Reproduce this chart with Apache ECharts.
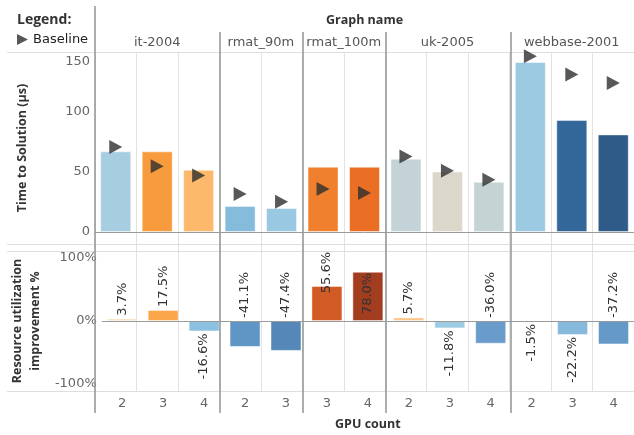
<!DOCTYPE html>
<html>
<head>
<meta charset="utf-8">
<title>Time to Solution / Resource utilization</title>
<script src="https://cdn.jsdelivr.net/npm/echarts@6/dist/echarts.min.js"></script>
<style>
	html, body { margin: 0; padding: 0; background: #fff; }
	#chart { width: 634px; height: 435px; }
</style>
</head>
<body>
<div id="chart"></div>
<script>
/** values **/
var graphNames = ['it-2004', 'rmat_90m', 'rmat_100m', 'uk-2005', 'webbase-2001'];
var gpuCounts = [[2, 3, 4], [2, 3], [3, 4], [2, 3, 4], [2, 3, 4]];
var timeToSolution = [67.2, 67.2, 51.9, 21.7, 20.0, 54.4, 54.4, 61.1, 50.5, 41.9, 141.7, 93.3, 81.3];
var baselineTime = [70.8, 54.7, 47.0, 31.7, 25.3, 35.8, 32.5, 63.0, 51.1, 43.6, 146.5, 131.3, 124.2];
var utilImprovement = [3.7, 17.5, -16.6, -41.1, -47.4, 55.6, 78.0, 5.7, -11.8, -36.0, -1.5, -22.2, -37.2];
var timeTicks = [0, 50, 100, 150];
var utilTicks = [-100, 0, 100];

// bar colours (one per bar)
var timeColors = ['#a6cde0', '#f89b3c', '#fdb96b', '#85bbdb', '#99c8e2', '#f0802d', '#ea6f25',
	'#c4d3d7', '#dbd7cb', '#c4d4d4', '#9dcae3', '#336699', '#2e5b88'];
var utilColors = ['#f0cf9f', '#fba64b', '#8cc0e0', '#5f96c5', '#5588b8', '#d15a25', '#a33d1f',
	'#fcc385', '#9ecbe4', '#6a9ccb', '#cfe2ef', '#87b9dd', '#6499c8'];
// where each improvement label sits
var utilLabelSide = ['up', 'up', 'down', 'up', 'up', 'clamp', 'inside', 'up', 'down', 'up', 'down', 'down', 'up'];

var resourceChart = {
	plotLeft: 95,
	plotWidth: 541,
	font: 'DejaVu Sans',
	init: function() {
		this.buildKeys();
		this.chart();
	},
	buildKeys: function() {
		var self = this;
		self.keys = [];
		self.groupCenters = [];
		self.groupEdges = [];
		var n = 0;
		gpuCounts.forEach(function(list, g) {
			self.groupCenters.push(n + list.length / 2);
			list.forEach(function(c) {
				self.keys.push(graphNames[g] + '|' + c);
			});
			n += list.length;
			self.groupEdges.push(n);
		});
	},
	utilLabel: function(side) {
		var base = {
			show: true,
			rotate: 90,
			verticalAlign: 'middle',
			fontFamily: this.font,
			fontSize: 13,
			color: '#333',
			formatter: function(p) {
				return p.value.toFixed(1) + '%';
			}
		};
		if (side == 'up') {
			base.position = 'top';
			base.align = 'left';
			base.distance = 3;
		} else if (side == 'down') {
			base.position = 'bottom';
			base.align = 'right';
			base.distance = 2;
		} else if (side == 'inside') {
			base.position = 'insideTop';
			base.align = 'right';
			base.distance = 1;
		} else {
			// pushed down so it stays inside the panel
			base.position = 'top';
			base.align = 'right';
			base.distance = 34;
		}
		return base;
	},
	decorations: function() {
		var self = this;
		var cw = self.plotWidth / self.keys.length;
		var items = [];
		// panel borders
		[52, 244, 251, 391].forEach(function(y) {
			items.push({
				type: 'line',
				shape: { x1: 7, y1: y + 0.5, x2: 640, y2: y + 0.5 },
				style: { stroke: '#dedede', lineWidth: 1 },
				z: 1
			});
		});
		// left border of the table
		items.push({
			type: 'line',
			shape: { x1: self.plotLeft, y1: 6, x2: self.plotLeft, y2: 413 },
			style: { stroke: '#8e9499', lineWidth: 1.5 },
			z: 5
		});
		// group dividers
		self.groupEdges.slice(0, -1).forEach(function(e) {
			var x = Math.round(self.plotLeft + e * cw);
			items.push({
				type: 'line',
				shape: { x1: x, y1: 32, x2: x, y2: 413 },
				style: { stroke: '#8e9499', lineWidth: 1.5 },
				z: 5
			});
		});
		return items;
	},
	chart: function() {
		var self = this;
		var el = document.getElementById('chart');
		var myChart = echarts.init(el, null, { renderer: 'canvas' });
		var titleStyle = { fontFamily: 'Open Sans', fontWeight: 'bold', fontSize: 12.5, color: '#333' };
		var option = {
			animation: false,
			backgroundColor: '#fff',
			title: {
				text: 'Legend:',
				left: 17,
				top: 13,
				padding: 0,
				textStyle: { fontFamily: 'Open Sans', fontWeight: 'bold', fontSize: 14, color: '#333' }
			},
			legend: {
				left: 17,
				top: 33,
				padding: 0,
				selectedMode: false,
				itemWidth: 11,
				itemHeight: 11,
				data: [{ name: 'Baseline', icon: 'path://M0,0L10,5L0,10Z' }],
				textStyle: { fontFamily: self.font, fontSize: 13, color: '#222' }
			},
			grid: [
				{ left: self.plotLeft, width: self.plotWidth, top: 52, height: 192 },
				{ left: self.plotLeft, width: self.plotWidth, top: 251, height: 140 },
				{ left: self.plotLeft, width: self.plotWidth, top: 52, height: 339 }
			],
			xAxis: [{
				gridIndex: 0,
				type: 'category',
				data: self.keys,
				axisLine: { show: false },
				axisTick: { show: false },
				axisLabel: { show: false },
				splitLine: { show: false }
			}, {
				gridIndex: 0,
				type: 'value',
				position: 'top',
				min: 0,
				max: self.keys.length,
				name: 'Graph name',
				nameLocation: 'middle',
				nameGap: 25,
				nameTextStyle: titleStyle,
				axisLine: { show: false },
				axisTick: { show: false },
				splitLine: { show: false },
				axisLabel: {
					customValues: self.groupCenters,
					margin: 3,
					fontFamily: self.font,
					fontSize: 13,
					color: '#555',
					formatter: function(v) {
						var i = self.groupCenters.indexOf(v);
						return i >= 0 ? graphNames[i] : '';
					}
				}
			}, {
				gridIndex: 1,
				type: 'category',
				data: self.keys,
				position: 'bottom',
				name: 'GPU count',
				nameLocation: 'middle',
				nameGap: 27,
				nameTextStyle: titleStyle,
				axisLine: { show: false, onZero: false },
				axisTick: { show: false },
				splitLine: { show: false },
				axisLabel: {
					interval: 0,
					margin: 6,
					fontFamily: self.font,
					fontSize: 13,
					color: '#666',
					formatter: function(v) {
						return v.split('|')[1];
					}
				}
			}, {
				gridIndex: 2,
				type: 'category',
				data: self.keys,
				axisLine: { show: false },
				axisTick: { show: false },
				axisLabel: { show: false },
				splitLine: { show: true, interval: 0, lineStyle: { color: '#e2e2e2', width: 1 } }
			}],
			yAxis: [{
				gridIndex: 0,
				type: 'value',
				min: -10,
				max: 150,
				name: 'Time to Solution (μs)',
				nameLocation: 'middle',
				nameRotate: 90,
				nameGap: 66,
				nameTextStyle: titleStyle,
				axisLine: { show: false },
				axisTick: { show: false },
				splitLine: { show: false },
				axisLabel: {
					customValues: timeTicks,
					margin: 5,
					fontFamily: self.font,
					fontSize: 13,
					color: '#666',
					formatter: function(v) {
						return v == 150 ? '{shift|' + v + '}' : v;
					},
					rich: {
						shift: { fontFamily: self.font, fontSize: 13, color: '#666', padding: [20, 0, 0, 0] }
					}
				}
			}, {
				gridIndex: 1,
				type: 'value',
				min: -111,
				max: 111,
				name: 'Resource utilization\nimprovement %',
				nameLocation: 'middle',
				nameRotate: 90,
				nameGap: 48,
				nameTextStyle: Object.assign({ lineHeight: 18 }, titleStyle),
				axisLine: { show: false },
				axisTick: { show: false },
				splitLine: { show: false },
				axisLabel: {
					customValues: utilTicks,
					margin: 5,
					fontFamily: self.font,
					fontSize: 13,
					color: '#666',
					formatter: function(v) {
						return v + '%';
					}
				}
			}, {
				gridIndex: 2,
				type: 'value',
				min: 0,
				max: 1,
				show: false
			}],
			series: [{
				name: 'Time to Solution',
				type: 'bar',
				xAxisIndex: 0,
				yAxisIndex: 0,
				barWidth: 31,
				z: 3,
				data: timeToSolution.map(function(v, i) {
					return { value: v, itemStyle: { color: timeColors[i], borderColor: 'rgba(255,255,255,0.45)', borderWidth: 1 } };
				}),
				markLine: {
					silent: true,
					symbol: 'none',
					label: { show: false },
					lineStyle: { color: '#9a9a9a', type: 'solid', width: 1 },
					data: [{ yAxis: 0 }]
				}
			}, {
				name: 'Baseline',
				type: 'scatter',
				xAxisIndex: 0,
				yAxisIndex: 0,
				symbol: 'path://M0,0L10,5L0,10Z',
				symbolSize: [13, 14],
				itemStyle: { color: '#2e2e2e' },
				z: 4,
				data: baselineTime
			}, {
				name: 'Resource utilization improvement',
				type: 'bar',
				xAxisIndex: 2,
				yAxisIndex: 1,
				barWidth: 31,
				z: 3,
				data: utilImprovement.map(function(v, i) {
					return {
						value: v,
						itemStyle: { color: utilColors[i], borderColor: 'rgba(255,255,255,0.45)', borderWidth: 1 },
						label: self.utilLabel(utilLabelSide[i])
					};
				}),
				markLine: {
					silent: true,
					symbol: 'none',
					label: { show: false },
					lineStyle: { color: '#9a9a9a', type: 'solid', width: 1 },
					data: [{ yAxis: 0 }]
				}
			}],
			graphic: self.decorations()
		};
		myChart.setOption(option, true);
	}
};
resourceChart.init();
</script>
</body>
</html>
